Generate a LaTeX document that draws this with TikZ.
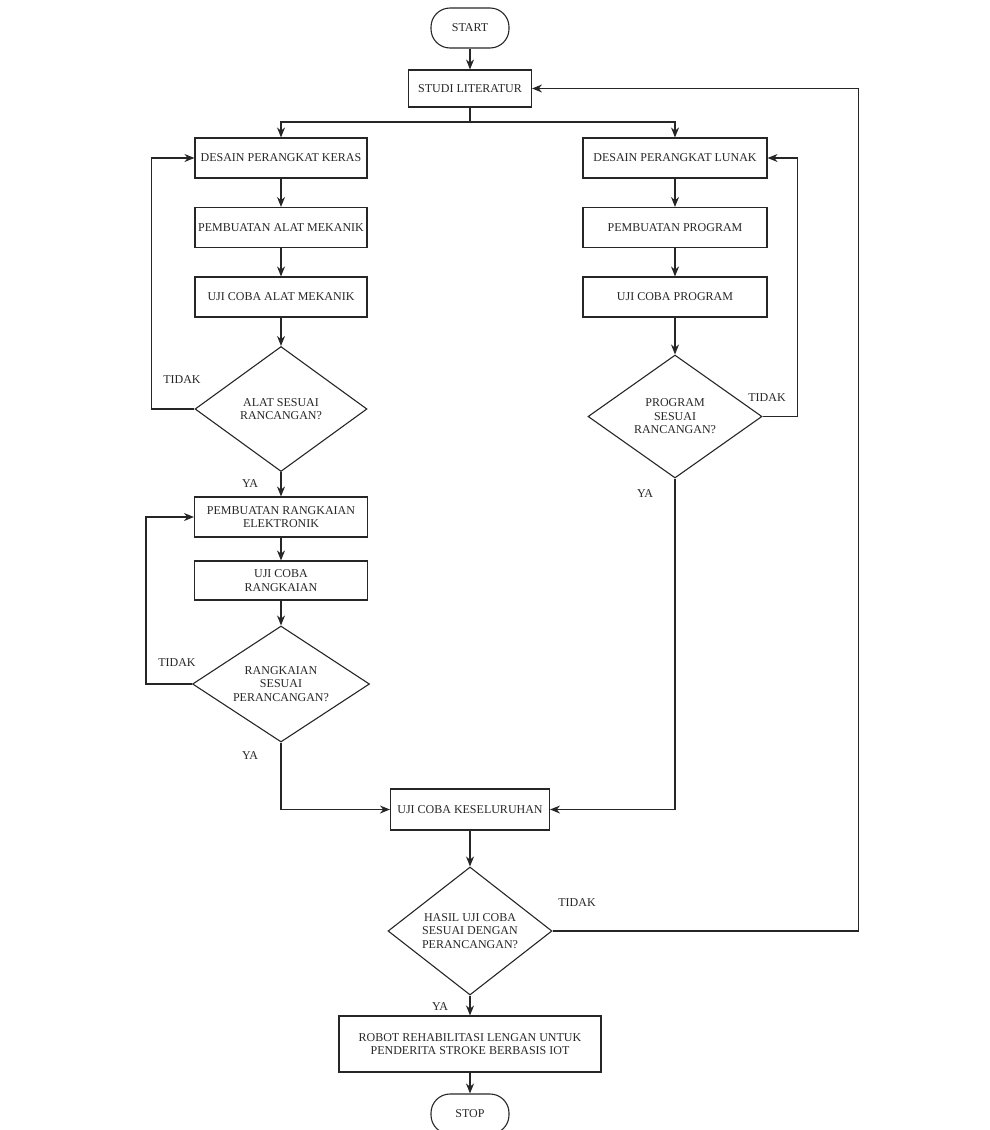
\documentclass[tikz,border=0pt]{standalone}
\usepackage{fontspec}
\setmainfont{Liberation Serif}
\usetikzlibrary{shapes.geometric,arrows.meta}

\begin{document}
\begin{tikzpicture}[x=1pt,y=-1pt,color=black!85,
    font=\fontsize{12}{13.5}\selectfont,line width=1.1pt,
    proc/.style={draw,rectangle,inner sep=0pt,align=center,minimum height=40pt},
    term/.style={draw,rectangle,rounded corners=19pt,inner sep=0pt,
      minimum width=78pt,minimum height=40pt},
    cek/.style={draw,diamond,aspect=1.4,inner sep=0pt,align=center},
    flow/.style={-{Stealth[length=10pt,width=8pt]}},
    lbl/.style={inner sep=0pt}]
    \useasboundingbox (0,0) rectangle (990,1130);
    \node[term] (start) at (470,28) {START};
    \node[proc,minimum width=123pt,minimum height=37pt] (studi) at (470,88.5) {STUDI LITERATUR};
    % kolom perangkat keras
    \node[proc,minimum width=172pt] (keras) at (281,158) {DESAIN PERANGKAT KERAS};
    \node[proc,minimum width=172pt] (alat) at (281,227.5) {PEMBUATAN ALAT MEKANIK};
    \node[proc,minimum width=172pt] (ujialat) at (281,297) {UJI COBA ALAT MEKANIK};
    \node[cek,minimum width=172pt,minimum height=125pt] (d1) at (281,409) {ALAT SESUAI\\RANCANGAN?};
    \node[proc,minimum width=173pt] (rangk) at (281,517) {PEMBUATAN RANGKAIAN\\ELEKTRONIK};
    \node[proc,minimum width=173pt,minimum height=39pt] (ujirangk) at (281,580.5) {UJI COBA\\RANGKAIAN};
    \node[cek,minimum width=177pt,minimum height=116pt] (d2) at (281,684) {RANGKAIAN\\SESUAI\\PERANCANGAN?};
    % kolom perangkat lunak
    \node[proc,minimum width=184pt] (lunak) at (675,158) {DESAIN PERANGKAT LUNAK};
    \node[proc,minimum width=184pt] (prog) at (675,227.5) {PEMBUATAN PROGRAM};
    \node[proc,minimum width=184pt] (ujiprog) at (675,297) {UJI COBA PROGRAM};
    \node[cek,minimum width=174pt,minimum height=123pt] (d3) at (675,416.5) {PROGRAM\\SESUAI\\RANCANGAN?};
    % akhir
    \node[proc,minimum width=159pt,minimum height=41pt] (kes) at (470,809.5) {UJI COBA KESELURUHAN};
    \node[cek,minimum width=164pt,minimum height=128pt] (d4) at (470,931) {HASIL UJI COBA\\SESUAI DENGAN\\PERANCANGAN?};
    \node[proc,minimum width=262pt,minimum height=56pt] (robot) at (470,1044) {ROBOT REHABILITASI LENGAN UNTUK\\PENDERITA STROKE BERBASIS IOT};
    \node[term] (stop) at (470,1114) {STOP};
    % label
    \node[lbl] (t1) at (182,380) {TIDAK};
    \node[lbl] (y1) at (250,484) {YA};
    \node[lbl] (t2) at (177,663) {TIDAK};
    \node[lbl] (y2) at (250,756) {YA};
    \node[lbl] (t3) at (767,398) {TIDAK};
    \node[lbl] (y3) at (645,494) {YA};
    \node[lbl] (t4) at (577,903) {TIDAK};
    \node[lbl] (y4) at (440,1007) {YA};
    % alur
    \coordinate (split) at (470,122);
    \draw[flow] (start) -- (studi);
    \draw (studi.south) -- (split);
    \draw[flow] (split) -| (keras);
    \draw[flow] (split) -| (lunak);
    \draw[flow] (keras) -- (alat);
    \draw[flow] (alat) -- (ujialat);
    \draw[flow] (ujialat) -- (d1);
    \draw[flow] (d1) -- (rangk);
    \draw[flow] (rangk) -- (ujirangk);
    \draw[flow] (ujirangk) -- (d2);
    \draw[flow] (d1.west) -- ++(-43,0) |- (keras.west);
    \draw[flow] (d2.west) -- ++(-46,0) |- (rangk.west);
    \draw[flow] (d2.south) |- (kes.west);
    \draw[flow] (lunak) -- (prog);
    \draw[flow] (prog) -- (ujiprog);
    \draw[flow] (ujiprog) -- (d3);
    \draw[flow] (d3.east) -- ++(35,0) |- (lunak.east);
    \draw[flow] (d3.south) |- (kes.east);
    \draw[flow] (kes) -- (d4);
    \draw[flow] (d4.east) -- ++(306,0) |- (studi.east);
    \draw[flow] (d4) -- (robot);
    \draw[flow] (robot) -- (stop);
\end{tikzpicture}
\end{document}
